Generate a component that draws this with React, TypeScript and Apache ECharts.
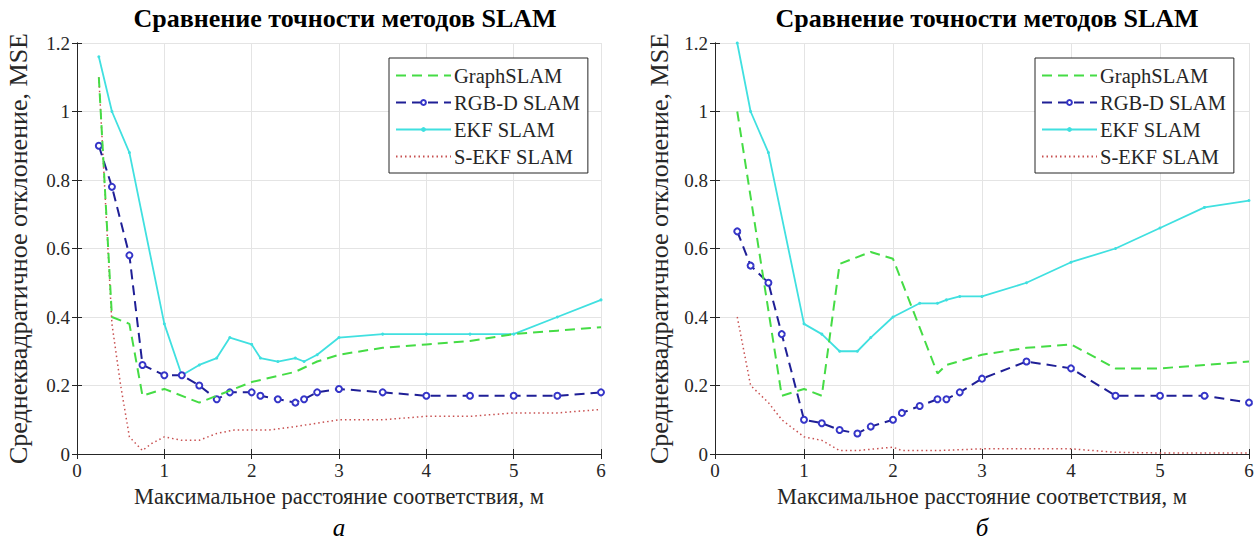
import React, { useEffect, useRef } from "react";
import * as echarts from "echarts";

const SERIES_NAMES = ["GraphSLAM", "RGB-D SLAM", "EKF SLAM", "S-EKF SLAM"];
const TITLE = "Сравнение точности методов SLAM";
const Y_NAME = "Среднеквадратичное отклонение, MSE";
const X_NAME = "Максимальное расстояние соответствия, м";
const PANEL_LABELS = ["а", "б"];

// Panel (а)
const aGraphX = [0.25, 0.4, 0.6, 0.75, 1.0, 1.4, 1.6, 2.0, 2.5, 2.75, 3.0, 3.5, 4.0, 4.5, 5.0, 5.5, 6.0];
const aGraphY = [1.1, 0.4, 0.38, 0.17, 0.19, 0.15, 0.17, 0.21, 0.24, 0.27, 0.29, 0.31, 0.32, 0.33, 0.35, 0.36, 0.37];
const aRgbdX = [0.25, 0.4, 0.6, 0.75, 1.0, 1.2, 1.4, 1.6, 1.75, 2.0, 2.1, 2.3, 2.5, 2.6, 2.75, 3.0, 3.5, 4.0, 4.5, 5.0, 5.5, 6.0];
const aRgbdY = [0.9, 0.78, 0.58, 0.26, 0.23, 0.23, 0.2, 0.16, 0.18, 0.18, 0.17, 0.16, 0.15, 0.16, 0.18, 0.19, 0.18, 0.17, 0.17, 0.17, 0.17, 0.18];
const aEkfX = [0.25, 0.4, 0.6, 1.0, 1.2, 1.4, 1.6, 1.75, 2.0, 2.1, 2.3, 2.5, 2.6, 2.75, 3.0, 3.5, 4.0, 4.5, 5.0, 5.5, 6.0];
const aEkfY = [1.16, 1.0, 0.88, 0.38, 0.23, 0.26, 0.28, 0.34, 0.32, 0.28, 0.27, 0.28, 0.27, 0.29, 0.34, 0.35, 0.35, 0.35, 0.35, 0.4, 0.45];
const aSekfX = [0.25, 0.4, 0.5, 0.6, 0.75, 0.85, 1.0, 1.2, 1.4, 1.6, 1.8, 2.0, 2.2, 2.5, 2.75, 3.0, 3.5, 4.0, 4.5, 5.0, 5.5, 6.0];
const aSekfY = [1.1, 0.38, 0.2, 0.05, 0.01, 0.03, 0.05, 0.04, 0.04, 0.06, 0.07, 0.07, 0.07, 0.08, 0.09, 0.1, 0.1, 0.11, 0.11, 0.12, 0.12, 0.13];

// Panel (б)
const bGraphX = [0.25, 0.75, 1.0, 1.2, 1.4, 1.75, 2.0, 2.5, 2.6, 3.0, 3.5, 4.0, 4.5, 5.0, 5.5, 6.0];
const bGraphY = [1.0, 0.17, 0.19, 0.17, 0.555, 0.59, 0.57, 0.235, 0.26, 0.29, 0.31, 0.32, 0.25, 0.25, 0.26, 0.27];
const bRgbdX = [0.25, 0.4, 0.6, 0.75, 1.0, 1.2, 1.4, 1.6, 1.75, 2.0, 2.1, 2.3, 2.5, 2.6, 2.75, 3.0, 3.5, 4.0, 4.5, 5.0, 5.5, 6.0];
const bRgbdY = [0.65, 0.55, 0.5, 0.35, 0.1, 0.09, 0.07, 0.06, 0.08, 0.1, 0.12, 0.14, 0.16, 0.16, 0.18, 0.22, 0.27, 0.25, 0.17, 0.17, 0.17, 0.15];
const bEkfX = [0.25, 0.4, 0.6, 1.0, 1.2, 1.4, 1.6, 1.75, 2.0, 2.3, 2.5, 2.6, 2.75, 3.0, 3.5, 4.0, 4.5, 5.0, 5.5, 6.0];
const bEkfY = [1.2, 1.0, 0.88, 0.38, 0.35, 0.3, 0.3, 0.34, 0.4, 0.44, 0.44, 0.45, 0.46, 0.46, 0.5, 0.56, 0.6, 0.66, 0.72, 0.74];
const bSekfX = [0.25, 0.4, 0.6, 0.75, 1.0, 1.2, 1.4, 1.6, 2.0, 2.1, 2.5, 3.0, 3.5, 4.0, 4.5, 5.0, 5.5, 6.0];
const bSekfY = [0.4, 0.2, 0.15, 0.1, 0.05, 0.04, 0.01, 0.01, 0.02, 0.01, 0.01, 0.015, 0.015, 0.015, 0.005, 0.003, 0.003, 0.003];

const zip = (xs: number[], ys: number[]) => xs.map((x, i) => [x, ys[i]]);

const SERIF = "Liberation Serif";
const AXIS_COLOR = "#262626";
const GRID_COLOR = "#e4e4e4";

export default function App() {
  const ref = useRef<HTMLDivElement>(null);

  useEffect(() => {
    if (!ref.current) return;
    const chart = echarts.init(ref.current, undefined, { renderer: "svg" });

    const grids = [
      { left: 77, right: 1257 - 601, top: 43, bottom: 549 - 454 },
      { left: 715, right: 1257 - 1249, top: 43, bottom: 549 - 454 },
    ];

    const xAxes: any[] = [];
    const yAxes: any[] = [];
    grids.forEach((_, gi) => {
      xAxes.push({
        type: "value",
        gridIndex: gi,
        min: 0,
        max: 6,
        interval: 1,
        position: "bottom",
        name: X_NAME,
        nameLocation: "middle",
        nameGap: 31,
        nameTextStyle: { fontFamily: SERIF, fontSize: 22.5, color: AXIS_COLOR },
        axisLine: { show: true, lineStyle: { color: AXIS_COLOR, width: 1 } },
        axisTick: { show: true, inside: true, length: 5, lineStyle: { color: AXIS_COLOR } },
        axisLabel: { fontFamily: SERIF, fontSize: 19, color: AXIS_COLOR, margin: 7 },
        splitLine: { show: true, lineStyle: { color: GRID_COLOR, width: 1 } },
      });
      xAxes.push({
        type: "value",
        gridIndex: gi,
        min: 0,
        max: 6,
        interval: 1,
        position: "top",
        axisLine: { show: true, lineStyle: { color: AXIS_COLOR, width: 1 } },
        axisTick: { show: true, inside: true, length: 5, lineStyle: { color: AXIS_COLOR } },
        axisLabel: { show: false },
        splitLine: { show: false },
      });
      yAxes.push({
        type: "value",
        gridIndex: gi,
        min: 0,
        max: 1.2,
        interval: 0.2,
        position: "left",
        name: Y_NAME,
        nameLocation: "middle",
        nameGap: gi === 0 ? 46 : 43,
        nameTextStyle: { fontFamily: SERIF, fontSize: 26, color: AXIS_COLOR },
        axisLine: { show: true, lineStyle: { color: AXIS_COLOR, width: 1 } },
        axisTick: { show: true, inside: true, length: 5, lineStyle: { color: AXIS_COLOR } },
        axisLabel: { fontFamily: SERIF, fontSize: 19, color: AXIS_COLOR, margin: 7 },
        splitLine: { show: true, lineStyle: { color: GRID_COLOR, width: 1 } },
      });
      yAxes.push({
        type: "value",
        gridIndex: gi,
        min: 0,
        max: 1.2,
        interval: 0.2,
        position: "right",
        axisLine: { show: true, lineStyle: { color: AXIS_COLOR, width: 1 } },
        axisTick: { show: true, inside: true, length: 5, lineStyle: { color: AXIS_COLOR } },
        axisLabel: { show: false },
        splitLine: { show: false },
      });
    });

    const styleFor = (name: string) => {
      switch (name) {
        case "GraphSLAM":
          return {
            symbol: "none",
            lineStyle: { color: "#45dc45", width: 2, type: [10, 6] },
            itemStyle: { color: "#45dc45" },
          };
        case "RGB-D SLAM":
          return {
            symbol: "emptyCircle",
            symbolSize: 6,
            lineStyle: { color: "#1f1f96", width: 2, type: [10, 6] },
            itemStyle: { color: "#3535c8", borderColor: "#3535c8", borderWidth: 1.2 },
          };
        case "EKF SLAM":
          return {
            symbol: "circle",
            symbolSize: 3,
            lineStyle: { color: "#40e0e0", width: 1.8 },
            itemStyle: { color: "#40e0e0" },
          };
        default:
          return {
            symbol: "none",
            lineStyle: { color: "#c85050", width: 1.5, type: [1.5, 3] },
            itemStyle: { color: "#c85050" },
          };
      }
    };

    const panels = [
      [zip(aGraphX, aGraphY), zip(aRgbdX, aRgbdY), zip(aEkfX, aEkfY), zip(aSekfX, aSekfY)],
      [zip(bGraphX, bGraphY), zip(bRgbdX, bRgbdY), zip(bEkfX, bEkfY), zip(bSekfX, bSekfY)],
    ];

    const series: any[] = [];
    panels.forEach((sets, gi) => {
      sets.forEach((data, si) => {
        const name = SERIES_NAMES[si];
        series.push({
          type: "line",
          name,
          xAxisIndex: gi * 2,
          yAxisIndex: gi * 2,
          data,
          showSymbol: true,
          ...styleFor(name),
          z: 10 - si,
        });
      });
    });

    const legendData = [
      { name: SERIES_NAMES[0], itemStyle: { opacity: 0 } },
      { name: SERIES_NAMES[1], itemStyle: { color: "#3535c8", borderColor: "#3535c8" } },
      { name: SERIES_NAMES[2], itemStyle: { color: "#40e0e0", borderColor: "#40e0e0" } },
      { name: SERIES_NAMES[3], itemStyle: { opacity: 0 } },
    ];

    const legendBase = {
      orient: "vertical",
      top: 58,
      itemWidth: 55,
      itemHeight: 6,
      itemGap: 6,
      padding: [7, 8, 6, 6],
      backgroundColor: "#ffffff",
      borderColor: AXIS_COLOR,
      borderWidth: 1,
      textStyle: { fontFamily: SERIF, fontSize: 20.5, color: AXIS_COLOR, lineHeight: 20, padding: [0, 0, 0, -2] },
      data: legendData,
      selectedMode: false,
    };

    const titleStyle = { fontFamily: SERIF, fontSize: 26, fontWeight: "bold", color: "#000" };

    chart.setOption({
      animation: false,
      backgroundColor: "#ffffff",
      title: [
        { text: TITLE, left: 340, top: 0, textAlign: "center", textStyle: titleStyle },
        { text: TITLE, left: 982, top: 0, textAlign: "center", textStyle: titleStyle },
      ],
      grid: grids.map((g) => ({ ...g, show: false, containLabel: false })),
      xAxis: xAxes,
      yAxis: yAxes,
      legend: [
        { ...legendBase, left: 389 },
        { ...legendBase, left: 1035 },
      ],
      graphic: [
        {
          type: "text",
          x: 339,
          y: 527,
          style: {
            text: PANEL_LABELS[0],
            font: `italic 25px ${SERIF}`,
            fill: "#000",
            textAlign: "center",
            textVerticalAlign: "middle",
          },
        },
        {
          type: "text",
          x: 982,
          y: 527,
          style: {
            text: PANEL_LABELS[1],
            font: `italic 25px ${SERIF}`,
            fill: "#000",
            textAlign: "center",
            textVerticalAlign: "middle",
          },
        },
      ],
      series,
    });

    return () => chart.dispose();
  }, []);

  return (
    <div
      ref={ref}
      style={{ position: "fixed", left: 0, top: 0, width: 1257, height: 549, background: "#fff" }}
    />
  );
}
